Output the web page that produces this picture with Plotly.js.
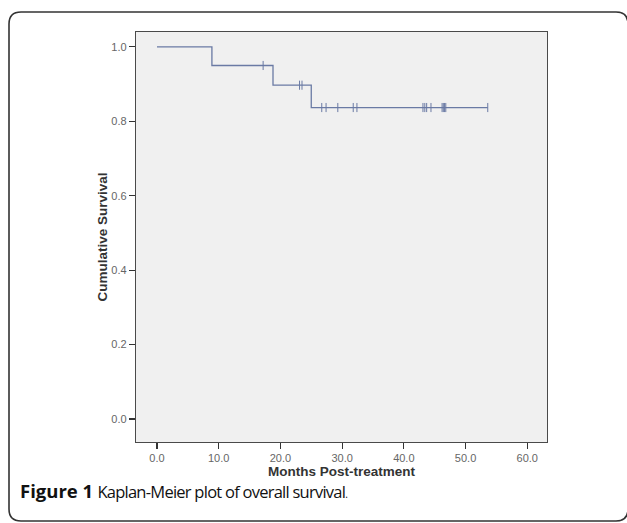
<!DOCTYPE html>
<html>
<head>
<meta charset="utf-8">
<script src="https://cdn.plot.ly/plotly-3.0.1.min.js"></script>
<style>html,body{margin:0;padding:0;background:#fff;}#chart{width:627px;height:523px;}</style>
</head>
<body>
<div id="chart"></div>
<script>
// Kaplan-Meier data (months, cumulative survival)
const eventTimes = [0, 8.9, 18.8, 25.0, 53.6];
const survival = [1.0, 0.95, 0.897, 0.837, 0.837];
const censorTimes = [17.2, 23.1, 23.5, 26.7, 27.4, 29.3, 31.8, 32.4, 43.1, 43.4, 43.7, 44.4, 46.2, 46.4, 46.6, 46.8, 53.6];
const xTickVals = [0, 10, 20, 30, 40, 50, 60];
const xTickText = ['0.0', '10.0', '20.0', '30.0', '40.0', '50.0', '60.0'];
const yTickVals = [0, 0.2, 0.4, 0.6, 0.8, 1.0];
const yTickText = ['0.0', '0.2', '0.4', '0.6', '0.8', '1.0'];

function survAt(t) {
  let s = survival[0];
  for (let i = 0; i < eventTimes.length; i++) { if (eventTimes[i] <= t) s = survival[i]; }
  return s;
}
const censorSurv = censorTimes.map(survAt);

// layout geometry (pixels)
const W = 627, H = 523;
const L = 136, R = 547, T = 32, B = 442;
const px = x => (x - L) / (R - L);
const py = y => (B - y) / (B - T);

const lineColor = '#6a7aa4';

const traces = [
  { x: eventTimes, y: survival, mode: 'lines', line: { shape: 'hv', color: lineColor, width: 1.3 }, hoverinfo: 'x+y', showlegend: false },
  { x: censorTimes, y: censorSurv, mode: 'markers', marker: { symbol: 'line-ns', size: 6.5, line: { color: lineColor, width: 1 } }, showlegend: false }
];

// rounded frame
const fx0 = 9, fy0 = 12, fx1 = 628, fy1 = 521, r = 12;
const framePath = [
  'M', px(fx0), py(fy0 + r),
  'Q', px(fx0), py(fy0), px(fx0 + r), py(fy0),
  'L', px(fx1 - r), py(fy0),
  'Q', px(fx1), py(fy0), px(fx1), py(fy0 + r),
  'L', px(fx1), py(fy1 - r),
  'Q', px(fx1), py(fy1), px(fx1 - r), py(fy1),
  'L', px(fx0 + r), py(fy1),
  'Q', px(fx0), py(fy1), px(fx0), py(fy1 - r),
  'Z'
].join(' ');

const layout = {
  width: W, height: H,
  margin: { l: L, r: W - R, t: T, b: H - B, pad: 0 },
  paper_bgcolor: '#ffffff',
  plot_bgcolor: '#f0f0f0',
  showlegend: false,
  font: { family: 'Liberation Sans, Arial, sans-serif', color: '#555' },
  xaxis: {
    range: [-3.4, 63.2], tickvals: xTickVals, ticktext: xTickText,
    showgrid: false, zeroline: false, showline: true, linecolor: '#4a4a4a', linewidth: 1.2, mirror: true,
    ticks: 'outside', ticklen: 6, tickwidth: 1.2, tickcolor: '#333',
    tickfont: { size: 11, color: '#666' },
    title: { text: '<b>Months Post-treatment</b>', font: { size: 13.5, color: '#333' }, standoff: 0 },
    automargin: false
  },
  yaxis: {
    range: [-0.062, 1.04], tickvals: yTickVals, ticktext: yTickText,
    showgrid: false, zeroline: false, showline: true, linecolor: '#4a4a4a', linewidth: 1.2, mirror: true,
    ticks: 'outside', ticklen: 6, tickwidth: 1.2, tickcolor: '#333',
    tickfont: { size: 11, color: '#666' },
    title: { text: '<b>Cumulative Survival</b>', font: { size: 13.5, color: '#333' }, standoff: 0 },
    automargin: false
  },
  shapes: [
    { type: 'path', xref: 'paper', yref: 'paper', path: framePath, line: { color: '#333', width: 1.6 }, fillcolor: 'rgba(0,0,0,0)', layer: 'below' }
  ],
  annotations: [
    { xref: 'paper', yref: 'paper', x: px(18), y: py(490), xanchor: 'left', yanchor: 'middle', showarrow: false,
      text: '<b><span style="font-size:18.5px">Figure 1</span></b> <span style="letter-spacing:-0.75px">Kaplan-Meier plot of overall survival</span><span style="font-size:10px">.</span>',
      font: { family: 'Open Sans, Noto Sans, sans-serif', size: 16.5, color: '#111' } }
  ]
};

Plotly.newPlot('chart', traces, layout, { displayModeBar: false, staticPlot: true });
</script>
</body>
</html>
